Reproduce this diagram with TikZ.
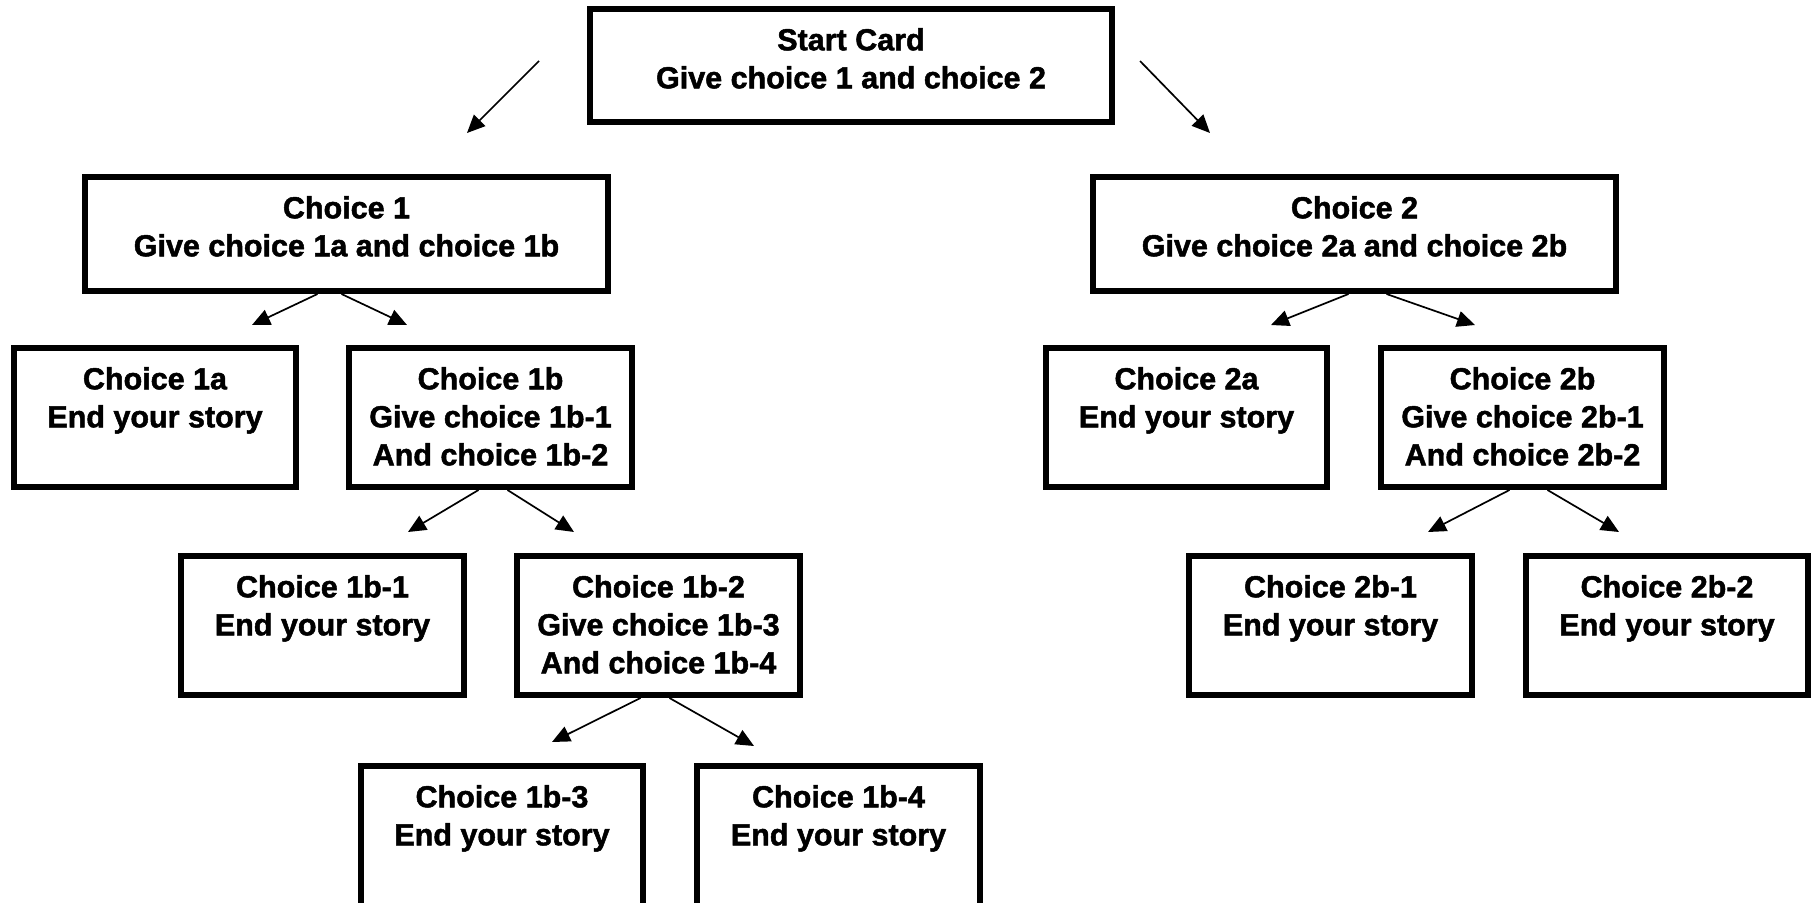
\documentclass[tikz,border=0pt]{standalone}
\usepackage{fontspec}
\setmainfont{Liberation Sans}
\newfontfamily\cardfont[FakeBold=1.6]{Liberation Sans Bold}
\usetikzlibrary{arrows.meta,calc}
\newcommand\mkcard[6]{%
  \node[card, minimum width={#4-#2}, minimum height={#5-#3}] (#1) at ({(#2+#4)/2},{(#3+#5)/2}) {};
  \node[cardtext] (#1t) at ($(#1.north)+(0,22)$) {#6};}
\begin{document}
\begin{tikzpicture}[x=1pt,y=-1pt,
  card/.style={draw, line width=6pt, inner sep=0pt, rectangle},
  cardtext/.style={anchor=north, inner sep=0pt, align=center, font=\fontsize{30.5}{38}\selectfont\cardfont},
  arr/.style={line width=1.7pt, -{Triangle[length=18pt,width=16pt]}}]
\useasboundingbox (0,0) rectangle (1814,902);
\fill[white] (0,0) rectangle (1814,902);
\clip (0,0) rectangle (1814,902);
\mkcard{start}{590}{9}{1112}{122}{Start Card\\Give choice 1 and choice 2}
\mkcard{c1}{85}{177}{608}{291}{Choice 1\\Give choice 1a and choice 1b}
\mkcard{c2}{1093}{177}{1616}{291}{Choice 2\\Give choice 2a and choice 2b}
\mkcard{c1a}{14}{348}{296}{487}{Choice 1a\\End your story}
\mkcard{c1b}{349}{348}{632}{487}{Choice 1b\\Give choice 1b-1\\And choice 1b-2}
\mkcard{c2a}{1046}{348}{1327}{487}{Choice 2a\\End your story}
\mkcard{c2b}{1381}{348}{1664}{487}{Choice 2b\\Give choice 2b-1\\And choice 2b-2}
\mkcard{c1b1}{181}{556}{464}{695}{Choice 1b-1\\End your story}
\mkcard{c1b2}{517}{556}{800}{695}{Choice 1b-2\\Give choice 1b-3\\And choice 1b-4}
\mkcard{c2b1}{1189}{556}{1472}{695}{Choice 2b-1\\End your story}
\mkcard{c2b2}{1526}{556}{1808}{695}{Choice 2b-2\\End your story}
\mkcard{c1b3}{361}{766}{643}{960}{Choice 1b-3\\End your story}
\mkcard{c1b4}{697}{766}{980}{960}{Choice 1b-4\\End your story}
% free ends
\coordinate (sL0) at (539,61);  \coordinate (sL1) at (467,133);
\coordinate (sR0) at (1140,61); \coordinate (sR1) at (1210,133);
\coordinate (c1L) at (252,325); \coordinate (c1R) at (407,325);
\coordinate (c2L) at (1271,325); \coordinate (c2R) at (1475,325);
\coordinate (c1bL) at (408,532); \coordinate (c1bR) at (574,532);
\coordinate (c2bL) at (1428,532); \coordinate (c2bR) at (1619,532);
\coordinate (c1b2L) at (552,742); \coordinate (c1b2R) at (754,746);
\draw[arr] (sL0) -- (sL1);
\draw[arr] (sR0) -- (sR1);
\draw[arr] ($(c1.south)+(-29,0)$) -- (c1L);
\draw[arr] ($(c1.south)+(-5,0)$) -- (c1R);
\draw[arr] ($(c2.south)+(-6,0)$) -- (c2L);
\draw[arr] ($(c2.south)+(32,0)$) -- (c2R);
\draw[arr] ($(c1b.south)+(-12,0)$) -- (c1bL);
\draw[arr] ($(c1b.south)+(17,0)$) -- (c1bR);
\draw[arr] ($(c2b.south)+(-13,0)$) -- (c2bL);
\draw[arr] ($(c2b.south)+(25,0)$) -- (c2bR);
\draw[arr] ($(c1b2.south)+(-18,0)$) -- (c1b2L);
\draw[arr] ($(c1b2.south)+(11,0)$) -- (c1b2R);
\end{tikzpicture}
\end{document}
